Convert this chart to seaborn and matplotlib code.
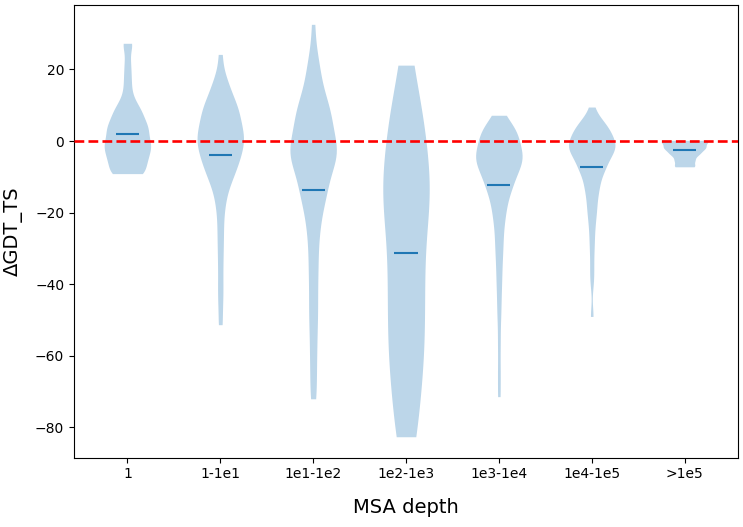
import numpy as np
import pandas as pd
import matplotlib
matplotlib.use("Agg")
import matplotlib.pyplot as plt
import seaborn as sns

categories = ["1", "1-1e1", "1e1-1e2", "1e2-1e3", "1e3-1e4", "1e4-1e5", ">1e5"]

# mean ΔGDT_TS per MSA-depth bin (short horizontal bars)
mean_values = [2.0, -4.0, -13.8, -31.2, -12.3, -7.2, -2.5]

# ΔGDT_TS observations per MSA-depth bin (estimated from the violin shapes)
d_1 = [27.3, 27.0, 22.5, 19.3, 16.5, 13.8, 11.5, 10.4, 9.3, 8.4, 7.9, 7.4, 6.7, 5.8,
       5.0, 4.4, 4.1, 3.8, 3.4, 2.8, 2.3, 1.7, 1.1, 0.6, -0.1, -0.6, -1.1, -1.4, -1.6,
       -1.8, -2.2, -2.9, -3.7, -4.3, -4.8, -5.2, -5.6, -5.9, -6.2, -8.1, -8.9, -9.0,
       -9.0, -9.1, -9.1]
d_1e1 = [24.2, 17.4, 16.2, 15.5, 13.6, 11.6, 10.5, 10.0, 9.7, 9.5, 9.0, 7.8, 6.4, 5.7,
         5.3, 5.1, 4.7, 4.1, 2.7, 1.3, 0.9, 0.6, 0.5, 0.4, 0.3, 0.1, -0.3, -2.0, -3.6,
         -4.0, -4.2, -4.5, -4.8, -5.3, -6.4, -7.9, -8.8, -9.5, -10.2, -11.0, -12.6,
         -15.8, -17.0, -21.2, -25.4, -29.7, -34.6, -40.0, -44.9, -51.3]
d_1e2 = [32.6, 23.7, 21.1, 19.8, 17.8, 14.5, 13.3, 12.0, 10.4, 9.1, 8.3, 7.8, 7.4, 7.0,
         6.6, 5.9, 5.0, 3.8, 2.4, 1.1, 0.2, -0.5, -1.6, -2.6, -3.1, -3.4, -3.6, -3.7,
         -3.8, -3.9, -4.0, -4.2, -4.5, -5.2, -7.5, -9.7, -11.0, -11.9, -12.7, -13.3,
         -14.0, -14.9, -16.2, -17.7, -19.7, -22.6, -23.8, -26.5, -29.6, -33.8, -35.8,
         -39.6, -43.5, -47.2, -49.9, -54.2, -58.8, -62.7, -68.6, -72.0]
d_1e3 = [21.2, 7.0, 5.6, 4.0, -6.0, -12.4, -13.2, -14.0, -18.0, -24.7, -31.4, -37.1,
         -41.0, -47.0, -52.9, -59.1, -61.8, -68.5, -79.0, -82.6]
d_1e4 = [7.2, 3.5, 2.7, 2.6, 2.5, 2.4, 2.4, 2.3, 2.3, 2.3, 2.2, 2.2, 2.1, 1.9, -2.7,
         -3.8, -3.9, -4.0, -4.1, -4.1, -4.2, -4.2, -4.3, -4.3, -4.4, -4.5, -4.6, -4.8,
         -5.2, -6.5, -7.0, -7.4, -8.2, -9.3, -10.1, -10.7, -11.2, -11.8, -12.3, -12.7,
         -13.1, -13.6, -14.1, -17.3, -18.6, -19.1, -19.6, -22.6, -23.6, -26.7, -28.9,
         -31.0, -33.8, -37.5, -40.4, -45.0, -49.5, -56.6, -64.3, -71.4]
d_1e5 = [9.5, 6.0, 5.0, 4.4, 4.1, 3.9, 3.7, 3.5, 3.1, 2.2, 1.5, 1.1, 0.9, 0.6, -0.3,
         -1.3, -1.6, -1.7, -1.8, -1.9, -1.9, -2.0, -2.1, -2.2, -2.3, -2.7, -3.6, -5.1,
         -5.9, -6.4, -6.8, -7.2, -7.6, -7.9, -8.4, -9.2, -12.0, -12.6, -13.0, -13.7,
         -16.6, -17.8, -19.4, -21.5, -23.9, -27.2, -30.6, -35.1, -39.3, -49.0]
d_gt1e5 = [0.2, 0.2, 0.2, 0.2, 0.2, 0.2, -0.5, -1.0, -1.2, -1.4, -1.7, -1.9, -2.1, -2.4,
           -2.8, -3.1, -3.6, -3.8, -4.1, -5.0, -5.5, -5.7, -6.9, -7.2, -7.2]

groups = [d_1, d_1e1, d_1e2, d_1e3, d_1e4, d_1e5, d_gt1e5]
bw_adjust = [0.5, 0.5, 0.5, 0.7, 0.5, 0.5, 0.6]

df = pd.DataFrame({
    "MSA depth": np.repeat(categories, [len(g) for g in groups]),
    "dGDT": np.concatenate([np.asarray(g, dtype=float) for g in groups]),
})

fig, ax = plt.subplots(figsize=(7.43, 5.27), dpi=100)
fig.subplots_adjust(left=74 / 743, right=738 / 743, bottom=1 - 457.5 / 527, top=1 - 5 / 527)

for cat, bw in zip(categories, bw_adjust):
    sns.violinplot(data=df[df["MSA depth"] == cat], x="MSA depth", y="dGDT",
                   order=categories, cut=0, inner=None, density_norm="width",
                   width=0.5, bw_adjust=bw, color="#bcd6e9", saturation=1,
                   linewidth=0, ax=ax)

xs = np.arange(len(categories))
ax.hlines(mean_values, xs - 0.125, xs + 0.125, colors="#1f77b4", linewidth=1.5, zorder=3)
ax.axhline(0, color="red", linestyle="--", linewidth=1.9, zorder=4)

ax.set_xlim(-0.575, 6.575)
ax.set_ylim(-88.4, 38.0)
ax.set_xlabel("MSA depth", fontsize=14, labelpad=12)
ax.set_ylabel("ΔGDT_TS", fontsize=14, labelpad=9)
ax.tick_params(labelsize=10)

fig.savefig("out.png", dpi=100)
